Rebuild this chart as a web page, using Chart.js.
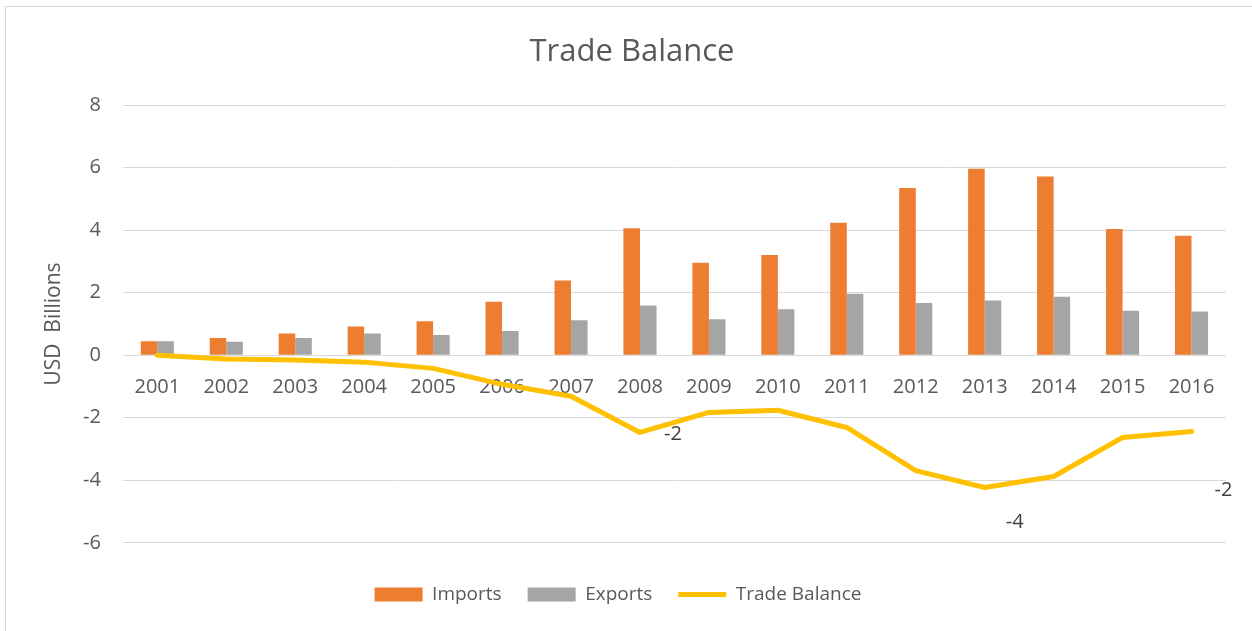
<!DOCTYPE html>
<html lang="en">
<head>
    <meta charset="UTF-8">
    <title>Trade Balance</title>
    <script src="https://cdn.jsdelivr.net/npm/chart.js"></script>
    <style>
        body {
            margin: 0;
            background: #fff;
        }
        #wrap {
            position: absolute;
            left: 5px;
            top: 6px;
            width: 1247px;
            height: 625px;
            border-left: 1px solid #d9d9d9;
            border-top: 1px solid #d9d9d9;
        }
    </style>
</head>
<body>
    <div id="wrap"><canvas id="graph"></canvas></div>

    <script>
        const years = ['2001', '2002', '2003', '2004', '2005', '2006', '2007', '2008',
                       '2009', '2010', '2011', '2012', '2013', '2014', '2015', '2016'];
        const imports = [0.45, 0.55, 0.70, 0.92, 1.09, 1.71, 2.39, 4.06,
                         2.96, 3.21, 4.24, 5.35, 5.97, 5.72, 4.04, 3.82];
        const exports = [0.45, 0.43, 0.55, 0.70, 0.65, 0.78, 1.12, 1.59,
                         1.15, 1.47, 1.97, 1.67, 1.75, 1.87, 1.42, 1.40];
        const balance = [0.00, -0.12, -0.15, -0.22, -0.42, -0.93, -1.31, -2.47,
                         -1.83, -1.76, -2.31, -3.69, -4.23, -3.88, -2.63, -2.44];
        // points of the balance line that carry a value label
        const labelled = [7, 12, 15];

        const textColor = '#595959';
        const fontName = "'Open Sans', sans-serif";

        // draws the rounded balance values next to a few points
        const balanceLabels = {
            id: 'balanceLabels',
            afterDatasetsDraw(chart) {
                const ctx = chart.ctx;
                const meta = chart.getDatasetMeta(2);
                const offsets = {7: [33, 2], 12: [30, 35], 15: [32, 59]};
                ctx.save();
                ctx.font = '20px ' + fontName;
                ctx.fillStyle = '#404040';
                ctx.textAlign = 'center';
                ctx.textBaseline = 'middle';
                labelled.forEach(i => {
                    const pt = meta.data[i];
                    const off = offsets[i];
                    ctx.fillText(Math.round(balance[i]).toString(), pt.x + off[0], pt.y + off[1]);
                });
                ctx.restore();
            }
        };

        // the legend sits a bit left of centre in the original
        const legendShift = {
            id: 'legendShift',
            afterLayout(chart) {
                if (chart.legend) chart.legend.right -= 28;
            }
        };

        window.onload = function() {
            Chart.defaults.font.family = fontName;
            Chart.defaults.color = textColor;
            let ctx = document.getElementById('graph').getContext('2d');
            new Chart(ctx, {
                type: 'bar',
                data: {
                    labels: years,
                    datasets: [{
                        label: 'Imports',
                        data: imports,
                        backgroundColor: '#ED7D31',
                        pointStyle: 'rect',
                        order: 1,
                        barPercentage: 1,
                        categoryPercentage: 0.48
                    }, {
                        label: 'Exports',
                        data: exports,
                        backgroundColor: '#A5A5A5',
                        pointStyle: 'rect',
                        order: 1,
                        barPercentage: 1,
                        categoryPercentage: 0.48
                    }, {
                        type: 'line',
                        label: 'Trade Balance',
                        data: balance,
                        borderColor: '#FFC000',
                        backgroundColor: '#FFC000',
                        borderWidth: 5,
                        borderCapStyle: 'round',
                        borderJoinStyle: 'round',
                        pointRadius: 0,
                        pointStyle: 'line',
                        tension: 0,
                        order: 0
                    }]
                },
                options: {
                    animation: false,
                    responsive: true,
                    maintainAspectRatio: false,
                    layout: {
                        padding: {left: 32, right: 27, top: 0, bottom: 18}
                    },
                    plugins: {
                        tooltip: {enabled: false},
                        title: {
                            display: true,
                            text: 'Trade Balance',
                            color: textColor,
                            font: {size: 31, weight: 'normal'},
                            padding: {top: 27, bottom: 34}
                        },
                        legend: {
                            position: 'bottom',
                            // empty title only used as spacing above the items
                            title: {display: true, text: ' ', font: {size: 1}, padding: {top: 0, bottom: 15}},
                            labels: {
                                usePointStyle: true,
                                pointStyleWidth: 48,
                                boxHeight: 14,
                                padding: 26,
                                color: textColor,
                                font: {size: 19},
                                sort: (a, b) => a.datasetIndex - b.datasetIndex
                            }
                        }
                    },
                    scales: {
                        x: {
                            position: {y: 0},
                            grid: {display: false, drawTicks: false},
                            border: {display: false},
                            ticks: {padding: 20, color: textColor, font: {size: 20}}
                        },
                        y: {
                            min: -6,
                            max: 8,
                            ticks: {stepSize: 2, padding: 22, color: textColor, font: {size: 20}},
                            grid: {color: '#D9D9D9', lineWidth: 1, drawTicks: false},
                            border: {display: false},
                            title: {
                                display: true,
                                text: 'USD  Billions',
                                color: textColor,
                                font: {size: 21, lineHeight: 1},
                                padding: {top: 6, bottom: -4}
                            }
                        }
                    }
                },
                plugins: [balanceLabels, legendShift]
            });
        };
    </script>
</body>
</html>
